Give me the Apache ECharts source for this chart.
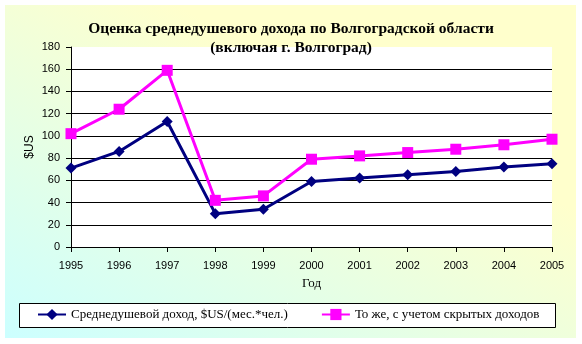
<!DOCTYPE html>
<html>
<head>
<meta charset="utf-8">
<script src="https://cdn.jsdelivr.net/npm/echarts@6/dist/echarts.min.js"></script>
<style>html,body{margin:0;padding:0;background:#fff}#c{width:582px;height:344px}</style>
</head>
<body>
<div id="c"></div>
<script>
const years = ['1995','1996','1997','1998','1999','2000','2001','2002','2003','2004','2005'];
const incomeOfficial = [71, 86, 113, 30, 34, 59, 62, 65, 68, 72, 75];
const incomeHidden = [102, 124, 159, 42, 46, 79, 82, 85, 88, 92, 97];
const seriesNames = ['Среднедушевой доход, $US/(мес.*чел.)', 'То же, с учетом скрытых доходов'];
const yTicks = [0, 20, 40, 60, 80, 100, 120, 140, 160, 180];

const chart = echarts.init(document.getElementById('c'), null, {renderer: 'canvas'});
const gridColors = yTicks.map(v => v === 180 ? 'rgba(0,0,0,0)' : '#000');
chart.setOption({
  animation: false,
  title: {
    text: 'Оценка среднедушевого дохода по Волгоградской области\n(включая г. Волгоград)',
    left: 'center', top: 14,
    textStyle: {fontFamily: 'Liberation Serif', fontWeight: 'bold', fontSize: 15.5, lineHeight: 19, color: '#000'}
  },
  graphic: [
    {type: 'rect', z: -100, shape: {x: 5, y: 5, width: 571, height: 333},
     style: {fill: new echarts.graphic.LinearGradient(0.3, 0, 0, 1, [{offset: 0, color: '#FFFFCC'}, {offset: 1, color: '#CCFFFF'}])}},
    {type: 'rect', z: 1, shape: {x: 19.5, y: 303.5, width: 536, height: 24},
     style: {fill: '#fff', stroke: '#000', lineWidth: 1}}
  ],
  grid: {left: 71, top: 47, width: 481, height: 200, show: true, backgroundColor: '#fff', borderWidth: 0},
  legend: {
    left: 37, top: 308, padding: 0, itemWidth: 28, itemHeight: 14, itemGap: 33,
    textStyle: {fontFamily: 'Liberation Serif', fontSize: 13, color: '#000'},
    data: seriesNames
  },
  xAxis: {
    type: 'category', data: years, boundaryGap: false,
    name: 'Год', nameLocation: 'middle', nameGap: 30, nameMoveOverlap: false,
    nameTextStyle: {fontFamily: 'Liberation Serif', fontSize: 13, color: '#000'},
    axisLine: {lineStyle: {color: '#000', width: 1}},
    axisTick: {show: true, inside: false, length: 5, alignWithLabel: true, lineStyle: {color: '#000'}},
    axisLabel: {fontFamily: 'Liberation Sans', fontSize: 11, color: '#000', margin: 13},
    splitLine: {show: false}
  },
  yAxis: {
    type: 'value', min: 0, max: 180, interval: 20,
    name: '$US', nameLocation: 'middle', nameGap: 35, nameRotate: 90, nameMoveOverlap: false,
    nameTextStyle: {fontFamily: 'Liberation Sans', fontSize: 12, color: '#000'},
    axisLine: {show: true, lineStyle: {color: '#000', width: 1}},
    axisTick: {show: true, length: 5, lineStyle: {color: '#000'}},
    axisLabel: {fontFamily: 'Liberation Sans', fontSize: 11, color: '#000', margin: 11},
    splitLine: {show: true, lineStyle: {color: gridColors, width: 1}}
  },
  series: [
    {name: seriesNames[0], type: 'line', data: incomeOfficial, symbol: 'diamond', symbolSize: 11,
     itemStyle: {color: '#000080'}, lineStyle: {color: '#000080', width: 3}},
    {name: seriesNames[1], type: 'line', data: incomeHidden, symbol: 'rect', symbolSize: 11,
     itemStyle: {color: '#FF00FF'}, lineStyle: {color: '#FF00FF', width: 3}}
  ]
});
</script>
</body>
</html>
